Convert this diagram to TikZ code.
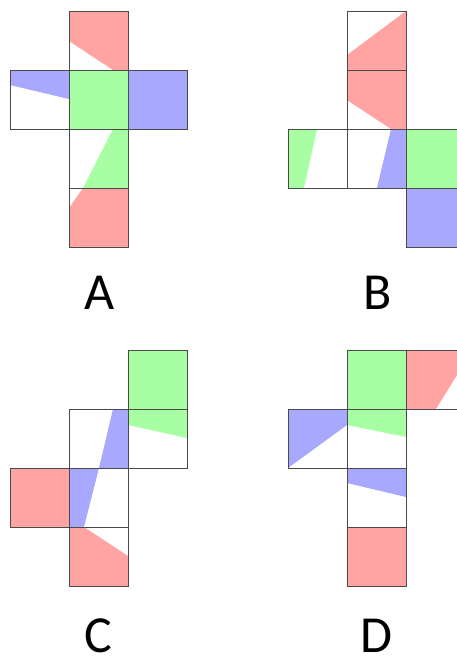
\documentclass[tikz,border=0pt]{standalone}
\usepackage{fontspec}
\setmainfont{Carlito}
\definecolor{FaceRed}{HTML}{FFA3A3}
\definecolor{FaceGreen}{HTML}{A8FFA3}
\definecolor{FaceBlue}{HTML}{A8A8FF}
\definecolor{EdgeGray}{HTML}{4A4A4A}
\tikzset{
  facebox/.style={draw=EdgeGray,line width=1pt},
  letterlabel/.style={font=\fontsize{52}{52}\selectfont,inner sep=0pt}
}

\begin{document}
\begin{tikzpicture}[x=1pt,y=-1pt]
  \clip (0,0) rectangle (457,657);
  \fill[white] (0,0) rectangle (457,657);

  % net A
  \fill[FaceRed] (69,11) -- (128,11) -- (128,70) -- (113,70) -- (69,41) -- cycle;
  \fill[FaceBlue] (10,70) -- (69,70) -- (69,99) -- (10,85) -- cycle;
  \fill[FaceGreen] (69,70) rectangle (128,129);
  \fill[FaceBlue] (128,70) rectangle (187,129);
  \fill[FaceGreen] (113,129) -- (128,129) -- (128,188) -- (83,188) -- cycle;
  \fill[FaceRed] (83,188) -- (128,188) -- (128,247) -- (69,247) -- (69,208) -- cycle;
  \foreach \x/\y in {69/11,10/70,69/70,128/70,69/129,69/188}
    \draw[facebox] (\x,\y) rectangle +(59,59);
  \node[letterlabel] (labelA) at (100,293) {A};

  % net B
  \fill[FaceRed] (406,11) -- (406,70) -- (347,70) -- (347,55) -- cycle;
  \fill[FaceRed] (347,70) -- (406,70) -- (406,129) -- (391,129) -- (347,100) -- cycle;
  \fill[FaceGreen] (288,129) -- (317,129) -- (304,188) -- (288,188) -- cycle;
  \fill[FaceBlue] (391,129) -- (406,129) -- (406,188) -- (377,188) -- cycle;
  \fill[FaceGreen] (406,129) rectangle (465,188);
  \fill[FaceBlue] (406,188) rectangle (465,247);
  \foreach \x/\y in {347/11,347/70,288/129,347/129,406/129,406/188}
    \draw[facebox] (\x,\y) rectangle +(59,59);
  \node[letterlabel] (labelB) at (378,293) {B};

  % net C
  \fill[FaceGreen] (128,350) -- (187,350) -- (187,438) -- (128,425) -- cycle;
  \fill[FaceBlue] (113,409) -- (128,409) -- (128,468) -- (99,468) -- (84,527) -- (69,527) -- (69,468) -- (99,468) -- cycle;
  \fill[FaceRed] (10,468) rectangle (69,527);
  \fill[FaceRed] (69,527) -- (84,527) -- (128,556) -- (128,586) -- (69,586) -- cycle;
  \foreach \x/\y in {128/350,69/409,128/409,10/468,69/468,69/527}
    \draw[facebox] (\x,\y) rectangle +(59,59);
  \node[letterlabel] (labelC) at (98,636) {C};

  % net D
  \fill[FaceGreen] (347,350) -- (406,350) -- (406,437) -- (347,425) -- cycle;
  \fill[FaceRed] (406,350) -- (465,350) -- (465,362) -- (436,409) -- (406,409) -- cycle;
  \fill[FaceBlue] (288,409) -- (347,409) -- (347,425) -- (288,468) -- cycle;
  \fill[FaceBlue] (347,468) -- (406,468) -- (406,497) -- (347,483) -- cycle;
  \fill[FaceRed] (347,527) rectangle (406,586);
  \foreach \x/\y in {347/350,406/350,288/409,347/409,347/468,347/527}
    \draw[facebox] (\x,\y) rectangle +(59,59);
  \node[letterlabel] (labelD) at (376,636) {D};
\end{tikzpicture}
\end{document}
